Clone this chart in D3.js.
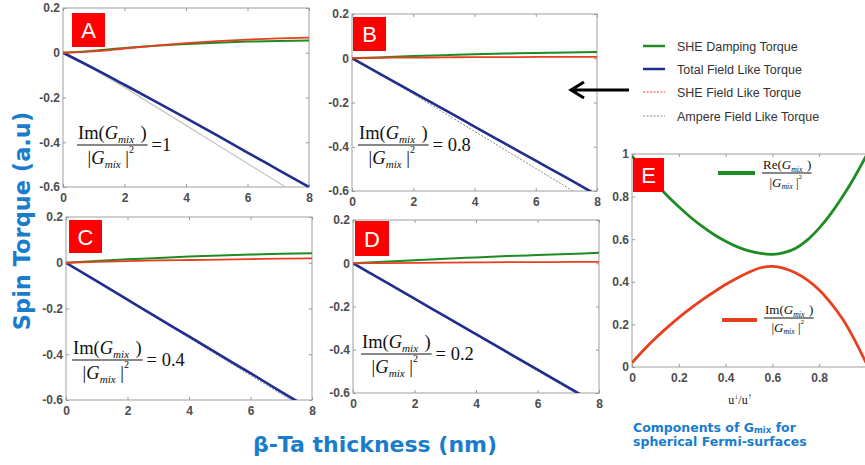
<!DOCTYPE html>
<html>
<head>
<meta charset="utf-8">
<script src="https://cdn.jsdelivr.net/npm/d3@7"></script>
<style>
body { margin: 0; background: #fff; }
svg { display: block; }
.tick text { font-family: "Liberation Sans", Arial, sans-serif; font-weight: bold; font-size: 12px; fill: #4d4d4d; }
.tick line { stroke: #9a9a9a; }
.frame { fill: none; stroke: #b0b0b0; stroke-width: 1.2; }
.math { font-family: "Liberation Serif", "Times New Roman", serif; fill: #111; }
</style>
</head>
<body>
<svg id="fig" width="865" height="465"></svg>
<script>
// thickness of the beta-Ta layer (nm)
var thickness = [0, 1, 2, 3, 4, 5, 6, 7, 8];

var dampingA = [0, 0.009, 0.021, 0.031, 0.039, 0.045, 0.050, 0.053, 0.055];
var sheFieldA = [0, 0.006, 0.019, 0.032, 0.043, 0.052, 0.059, 0.064, 0.068];
var totalFieldA = [0, -0.070, -0.143, -0.217, -0.292, -0.368, -0.446, -0.523, -0.600];
var ampereA = [0, -0.075, -0.155, -0.240, -0.325, -0.410, -0.495, -0.580, -0.665];

var dampingB = [0, 0.005, 0.010, 0.014, 0.018, 0.021, 0.024, 0.026, 0.028];
var sheFieldB = [0, 0.002, 0.003, 0.004, 0.005, 0.005, 0.006, 0.006, 0.006];
var totalFieldB = [0, -0.077, -0.154, -0.231, -0.309, -0.386, -0.463, -0.540, -0.618];
var ampereB = [0, -0.080, -0.162, -0.246, -0.330, -0.414, -0.498, -0.582, -0.666];

var dampingC = [0, 0.008, 0.015, 0.021, 0.027, 0.032, 0.036, 0.039, 0.042];
var sheFieldC = [0, 0.004, 0.007, 0.010, 0.012, 0.014, 0.016, 0.018, 0.019];
var totalFieldC = [0, -0.080, -0.161, -0.242, -0.322, -0.403, -0.483, -0.564, -0.644];
var ampereC = [0, -0.082, -0.164, -0.246, -0.328, -0.410, -0.492, -0.574, -0.656];

var dampingD = [0, 0.007, 0.014, 0.021, 0.027, 0.033, 0.038, 0.043, 0.048];
var sheFieldD = [0, 0.001, 0.002, 0.003, 0.004, 0.005, 0.005, 0.006, 0.006];
var totalFieldD = [0, -0.082, -0.164, -0.246, -0.328, -0.410, -0.492, -0.574, -0.656];
var ampereD = [0, -0.083, -0.166, -0.249, -0.332, -0.415, -0.498, -0.581, -0.664];

// panel E: components of G_mix vs u_down/u_up
var ratioU = [0, 0.05, 0.1, 0.15, 0.2, 0.25, 0.3, 0.35, 0.4, 0.45, 0.5, 0.55, 0.6, 0.65, 0.7, 0.75, 0.8, 0.85, 0.9, 0.95, 1.0];
var reG = [0.99, 0.93, 0.865, 0.805, 0.752, 0.703, 0.66, 0.622, 0.59, 0.564, 0.545, 0.533, 0.529, 0.537, 0.558, 0.597, 0.652, 0.72, 0.80, 0.89, 0.99];
var imG = [0.02, 0.08, 0.135, 0.185, 0.232, 0.275, 0.315, 0.352, 0.387, 0.418, 0.445, 0.466, 0.472, 0.463, 0.441, 0.408, 0.362, 0.300, 0.225, 0.13, 0.02];

var torqueTicks = [0.2, 0, -0.2, -0.4, -0.6];
var thicknessTicks = [0, 2, 4, 6, 8];
var gTicks = [0, 0.2, 0.4, 0.6, 0.8, 1];
var gXTicks = [0, 0.2, 0.4, 0.6, 0.8, 1];
var gXLabels = ['0', '0.2', '0.4', '0.6', '0.8', ''];
var panelNames = ['A', 'B', 'C', 'D'];
var ratioText = ['=1', '= 0.8', '= 0.4', '= 0.2'];
var legendNames = ['SHE Damping Torque', 'Total Field Like Torque', 'SHE Field Like Torque', 'Ampere Field Like Torque'];

var green = '#1f8c23', blue = '#1f2d8f', red = '#e8401e', gray = '#8a8a8a';

var series = {
    A: [dampingA, sheFieldA, totalFieldA, ampereA],
    B: [dampingB, sheFieldB, totalFieldB, ampereB],
    C: [dampingC, sheFieldC, totalFieldC, ampereC],
    D: [dampingD, sheFieldD, totalFieldD, ampereD]
};

// panel boxes in page pixels
var layout = {
    A: {x0: 63, x1: 309, top: 8, bot: 187, box: [9, 5, 33, 34], frac: [14, 145]},
    B: {x0: 352, x1: 597, top: 14, bot: 191, box: [1, 3, 33, 34], frac: [6, 145]},
    C: {x0: 66, x1: 312, top: 217, bot: 400, box: [3, 3, 33, 33], frac: [6, 360]},
    D: {x0: 353, x1: 599, top: 220, bot: 393, box: [2, 1, 34, 35], frac: [8, 354]}
};

var svg = d3.select('#fig');
var defs = svg.append('defs');

function letterBox(g, x, y, w, h, letter) {
    g.append('rect').attr('x', x).attr('y', y).attr('width', w).attr('height', h).attr('fill', '#ff0000');
    g.append('text').attr('x', x + w / 2).attr('y', y + h / 2 + 8).attr('text-anchor', 'middle')
        .style('font-family', '"Liberation Sans", Arial, sans-serif').style('font-size', '22px').style('fill', '#fff')
        .text(letter);
}

function styleAxis(sel) {
    sel.select('.domain').remove();
}

// fraction  Im(G_mix) / |G_mix|^2
function fraction(g, x, y, fs, head, tail) {
    var num = g.append('text').attr('class', 'math').attr('x', x + 1).attr('y', y - fs * 0.3).style('font-size', fs + 'px');
    num.append('tspan').text(head + '(');
    num.append('tspan').style('font-style', 'italic').text('G');
    num.append('tspan').style('font-style', 'italic').style('font-size', (fs * 0.6) + 'px').attr('dy', fs * 0.2).text('mix');
    num.append('tspan').attr('dy', -fs * 0.2).attr('dx', fs * 0.35).text(')');
    var w = num.node().getComputedTextLength() + fs * 0.45;
    g.append('line').attr('x1', x).attr('x2', x + w).attr('y1', y).attr('y2', y).attr('stroke', '#111').attr('stroke-width', fs > 12 ? 1.1 : 0.8);
    var den = g.append('text').attr('class', 'math').attr('x', x + w * 0.15).attr('y', y + fs * 1.05).style('font-size', fs + 'px');
    den.append('tspan').text('|');
    den.append('tspan').style('font-style', 'italic').text('G');
    den.append('tspan').style('font-style', 'italic').style('font-size', (fs * 0.6) + 'px').attr('dy', fs * 0.2).text('mix');
    den.append('tspan').attr('dy', -fs * 0.2).attr('dx', fs * 0.25).text('|');
    den.append('tspan').style('font-size', (fs * 0.55) + 'px').attr('dy', -fs * 0.6).text('2');
    if (tail) {
        g.append('text').attr('class', 'math').attr('x', x + w + 4).attr('y', y + fs * 0.33).style('font-size', fs + 'px').text(tail);
    }
}

panelNames.forEach(function(name, i) {
    var L = layout[name];
    var x = d3.scaleLinear().domain([0, 8]).range([L.x0, L.x1]);
    var y = d3.scaleLinear().domain([-0.6, 0.2]).range([L.bot, L.top]);
    var g = svg.append('g');

    defs.append('clipPath').attr('id', 'clip' + name).append('rect')
        .attr('x', L.x0).attr('y', L.top).attr('width', L.x1 - L.x0).attr('height', L.bot - L.top);

    g.append('rect').attr('class', 'frame').attr('x', L.x0).attr('y', L.top).attr('width', L.x1 - L.x0).attr('height', L.bot - L.top);

    g.append('g').attr('transform', 'translate(' + L.x0 + ',0)')
        .call(d3.axisLeft(y).tickValues(torqueTicks).tickSize(-3).tickPadding(3).tickFormat(function(d) { return String(d); }))
        .call(styleAxis);
    g.append('g').attr('transform', 'translate(' + L.x1 + ',0)')
        .call(d3.axisRight(y).tickValues(torqueTicks).tickSize(-3).tickFormat(''))
        .call(styleAxis);
    g.append('g').attr('transform', 'translate(0,' + L.bot + ')')
        .call(d3.axisBottom(x).tickValues(thicknessTicks).tickSize(-3).tickPadding(6))
        .call(styleAxis);
    g.append('g').attr('transform', 'translate(0,' + L.top + ')')
        .call(d3.axisTop(x).tickValues(thicknessTicks).tickSize(-3).tickFormat(''))
        .call(styleAxis);

    var line = d3.line().x(function(d, j) { return x(thickness[j]); }).y(function(d) { return y(d); }).curve(d3.curveMonotoneX);
    var s = series[name];
    var plot = g.append('g').attr('clip-path', 'url(#clip' + name + ')');
    // ampere field-like torque
    plot.append('path').attr('d', line(s[3])).attr('fill', 'none')
        .attr('stroke', name === 'A' ? '#c8c8c8' : gray)
        .attr('stroke-width', name === 'A' ? 1.4 : 1)
        .attr('stroke-dasharray', name === 'A' ? null : '2,1.5');
    plot.append('path').attr('d', line(s[2])).attr('fill', 'none').attr('stroke', blue).attr('stroke-width', 2.6);
    plot.append('path').attr('d', line(s[0])).attr('fill', 'none').attr('stroke', green).attr('stroke-width', 2);
    plot.append('path').attr('d', line(s[1])).attr('fill', 'none').attr('stroke', red).attr('stroke-width', 1.8);

    letterBox(g, L.x0 + L.box[0], L.top + L.box[1], L.box[2], L.box[3], name);
    fraction(g, L.x0 + L.frac[0], L.frac[1], 18.5, 'Im', ratioText[i]);
});

// panel E
(function() {
    var L = {x0: 632, x1: 866, top: 154, bot: 367};
    var x = d3.scaleLinear().domain([0, 1]).range([L.x0, L.x1]);
    var y = d3.scaleLinear().domain([0, 1]).range([L.bot, L.top]);
    var g = svg.append('g');
    defs.append('clipPath').attr('id', 'clipE').append('rect')
        .attr('x', L.x0).attr('y', L.top - 2).attr('width', L.x1 - L.x0).attr('height', L.bot - L.top + 4);
    g.append('rect').attr('class', 'frame').attr('x', L.x0).attr('y', L.top).attr('width', L.x1 - L.x0).attr('height', L.bot - L.top);
    g.append('g').attr('transform', 'translate(' + L.x0 + ',0)')
        .call(d3.axisLeft(y).tickValues(gTicks).tickSize(-3).tickPadding(3).tickFormat(function(d) { return String(d); }))
        .call(styleAxis);
    g.append('g').attr('transform', 'translate(0,' + L.bot + ')')
        .call(d3.axisBottom(x).tickValues(gXTicks).tickSize(-3).tickPadding(6).tickFormat(function(d, i) { return gXLabels[i]; }))
        .call(styleAxis);
    g.append('g').attr('transform', 'translate(0,' + L.top + ')')
        .call(d3.axisTop(x).tickValues(gXTicks).tickSize(-3).tickFormat(''))
        .call(styleAxis);

    var line = d3.line().x(function(d, j) { return x(ratioU[j]); }).y(function(d) { return y(d); }).curve(d3.curveCatmullRom);
    var plot = g.append('g').attr('clip-path', 'url(#clipE)');
    plot.append('path').attr('d', line(reG)).attr('fill', 'none').attr('stroke', green).attr('stroke-width', 2.8);
    plot.append('path').attr('d', line(imG)).attr('fill', 'none').attr('stroke', red).attr('stroke-width', 2.8);

    letterBox(g, 633, 158, 31, 34, 'E');

    // inline legend
    g.append('line').attr('x1', 718).attr('x2', 755).attr('y1', 173).attr('y2', 173).attr('stroke', green).attr('stroke-width', 4);
    fraction(g, 762, 173, 13, 'Re', null);
    g.append('line').attr('x1', 722).attr('x2', 757).attr('y1', 320).attr('y2', 320).attr('stroke', red).attr('stroke-width', 4);
    fraction(g, 764, 318, 13, 'Im', null);

    var lab = g.append('text').attr('class', 'math').attr('x', 740).attr('y', 404).attr('text-anchor', 'middle').style('font-size', '12px');
    lab.append('tspan').text('u');
    lab.append('tspan').style('font-size', '8px').attr('dy', -5).text('\u2193');
    lab.append('tspan').attr('dy', 5).text('/u');
    lab.append('tspan').style('font-size', '8px').attr('dy', -5).text('\u2191');
})();

// main legend
var leg = svg.append('g');
var legStyles = [
    {c: green, w: 2.5, dash: null},
    {c: blue, w: 2.5, dash: null},
    {c: red, w: 1, dash: '2,1.5'},
    {c: gray, w: 1, dash: '2,1.5'}
];
var legY = [46, 69, 92, 116];
legendNames.forEach(function(n, i) {
    leg.append('line').attr('x1', 643).attr('x2', 665).attr('y1', legY[i]).attr('y2', legY[i])
        .attr('stroke', legStyles[i].c).attr('stroke-width', legStyles[i].w).attr('stroke-dasharray', legStyles[i].dash);
    leg.append('text').attr('x', 677).attr('y', legY[i] + 4.5)
        .style('font-family', '"Liberation Sans", Arial, sans-serif').style('font-size', '12.5px').style('fill', '#333')
        .text(n);
});

// arrow pointing to panel B
svg.append('path').attr('d', 'M629,90 L571,90 M584,82 L571,90 L584,98')
    .attr('fill', 'none').attr('stroke', '#000').attr('stroke-width', 3).attr('stroke-linejoin', 'miter');

// axis titles
var titleFont = '"DejaVu Sans", Verdana, sans-serif';
svg.append('text').attr('transform', 'translate(30,221) rotate(-90)').attr('text-anchor', 'middle')
    .style('font-family', titleFont).style('font-weight', 'bold').style('font-size', '22.5px').style('fill', '#1a7ccc')
    .text('Spin Torque (a.u)');
svg.append('text').attr('x', 375).attr('y', 452).attr('text-anchor', 'middle')
    .style('font-family', titleFont).style('font-weight', 'bold').style('font-size', '22px').style('fill', '#1a7ccc')
    .text('\u03b2-Ta thickness (nm)');

var cap = svg.append('g').style('font-family', titleFont).style('font-weight', 'bold').style('font-size', '12.5px').style('fill', '#1a7ccc');
var c1 = cap.append('text').attr('x', 633).attr('y', 432);
c1.append('tspan').text('Components of G');
c1.append('tspan').style('font-size', '8.5px').attr('dy', 1).text('mix');
c1.append('tspan').attr('dy', -1).text(' for');
cap.append('text').attr('x', 633).attr('y', 446).text('spherical Fermi-surfaces');
</script>
</body>
</html>
